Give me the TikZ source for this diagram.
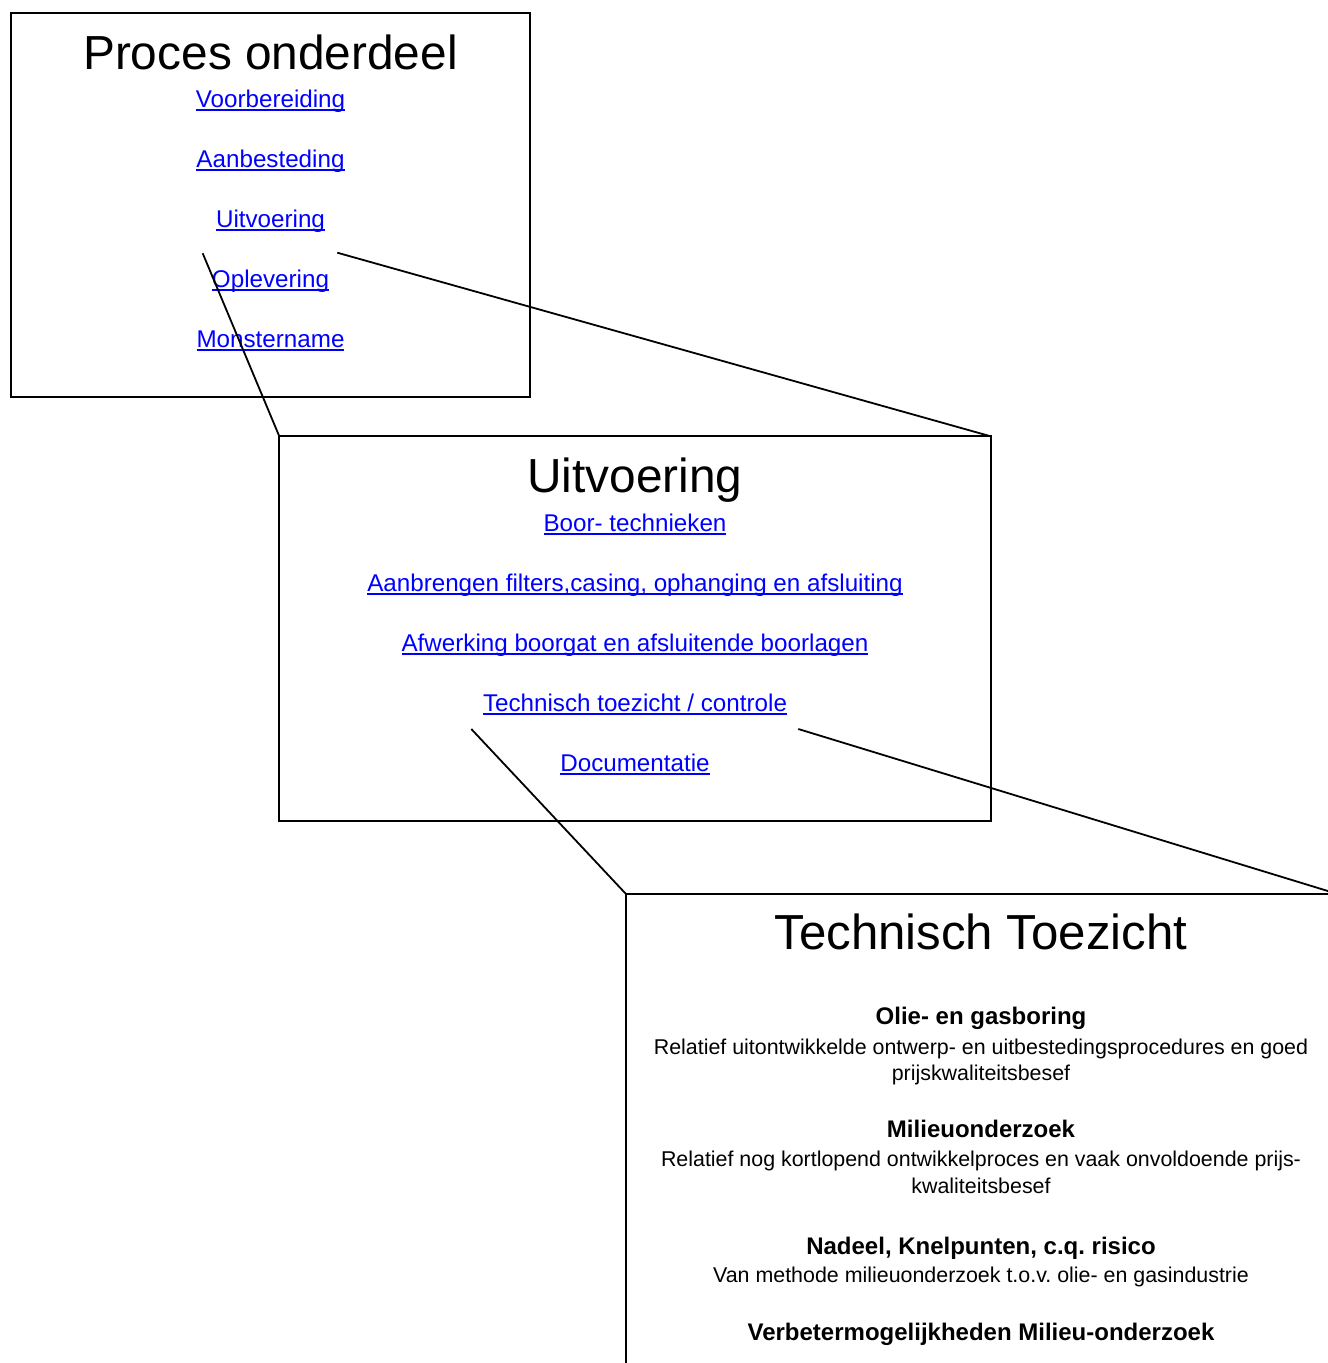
\documentclass[tikz,border=0pt]{standalone}
\usepackage{fontspec}
\setmainfont{Liberation Sans}
\frenchspacing
\newcommand\ulnk[1]{\setbox0\hbox{#1}\rlap{\rule[-3.6pt]{\wd0}{2pt}}\box0}
\begin{document}
\begin{tikzpicture}[x=1pt,y=-1pt,
  box/.style={draw, line width=2pt, anchor=north west, inner sep=0pt, outer sep=0pt},
  ttl/.style={anchor=base, inner sep=0pt, font=\fontsize{47.8}{57}\selectfont},
  lnk/.style={anchor=base, inner sep=0pt, text={rgb,255:red,0;green,0;blue,255}, font=\fontsize{24.2}{29}\selectfont},
  hd/.style={anchor=base, inner sep=0pt, font=\bfseries\fontsize{24}{29}\selectfont},
  bd/.style={anchor=base, inner sep=0pt, font=\fontsize{21.4}{25.5}\selectfont},
  con/.style={line width=1.8pt}]
\useasboundingbox (0,0) rectangle (1328,1363);
\clip (0,0) rectangle (1328,1363);

% boxes
\node[box, minimum width=518.7pt, minimum height=383.4pt] (b1) at (11,13.3) {};
\node[box, minimum width=711.4pt, minimum height=384.4pt] (b2) at (279.3,436.3) {};
\node[box, minimum width=711pt, minimum height=540pt] (b3) at (625.7,893.7) {};

% box 1
\node[ttl] (t1) at (270.5,69.3) {Proces onderdeel};
\node[lnk] (l11) at (270.5,107.3) {\ulnk{Voorbereiding}};
\node[lnk] (l12) at (270.5,167.3) {\ulnk{Aanbesteding}};
\node[lnk] (l13) at (270.5,227.3) {\ulnk{Uitvoering}};
\node[lnk] (l14) at (270.5,287.3) {\ulnk{Oplevering}};
\node[lnk] (l15) at (270.5,347.3) {\ulnk{Monstername}};

% box 2
\node[ttl] (t2) at (635,492.5) {Uitvoering};
\node[lnk] (l21) at (635,531) {\ulnk{Boor- technieken}};
\node[lnk] (l22) at (635,591) {\ulnk{Aanbrengen filters,casing, ophanging en afsluiting}};
\node[lnk] (l23) at (635,651) {\ulnk{Afwerking boorgat en afsluitende boorlagen}};
\node[lnk] (l24) at (635,711) {\ulnk{Technisch toezicht / controle}};
\node[lnk] (l25) at (635,771) {\ulnk{Documentatie}};

% box 3
\node[ttl, font=\fontsize{49.2}{59}\selectfont] (t3) at (981,949.5) {Technisch Toezicht};
\node[hd] (h1) at (981,1024.3) {Olie- en gasboring};
\node[bd] (p1a) at (981,1054) {Relatief uitontwikkelde ontwerp- en uitbestedingsprocedures en goed};
\node[bd] (p1b) at (981,1080) {prijskwaliteitsbesef};
\node[hd] (h2) at (981,1137) {Milieuonderzoek};
\node[bd] (p2a) at (981,1166) {Relatief nog kortlopend ontwikkelproces en vaak onvoldoende prijs-};
\node[bd] (p2b) at (981,1193) {kwaliteitsbesef};
\node[hd] (h3) at (981,1254) {Nadeel, Knelpunten, c.q. risico};
\node[bd] (p3a) at (981,1282) {Van methode milieuonderzoek t.o.v. olie- en gasindustrie};
\node[hd] (h4) at (981,1340) {Verbetermogelijkheden Milieu-onderzoek};

% zoom connectors
\coordinate (zA) at (202.7,253.3);
\coordinate (zB) at (337.3,252.7);
\coordinate (zC) at (471.3,729);
\coordinate (zD) at (798.3,729);
\draw[con] (zA) -- (b2.north west);
\draw[con] (zB) -- (b2.north east);
\draw[con] (zC) -- (b3.north west);
\draw[con] (zD) -- (b3.north east);
\end{tikzpicture}
\end{document}
